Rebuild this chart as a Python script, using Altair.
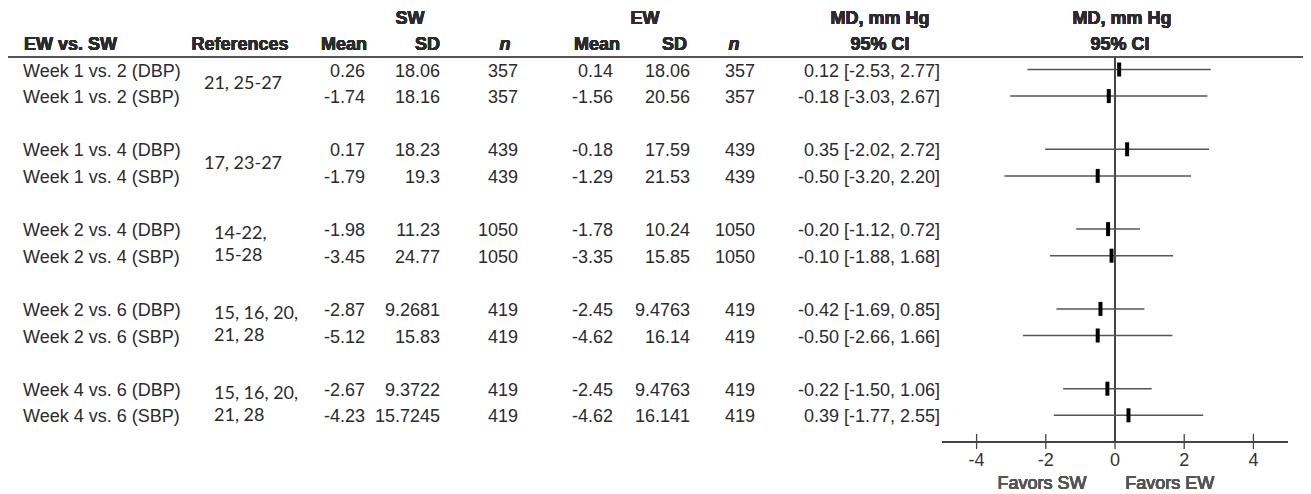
import altair as alt
import pandas as pd

LABELS = ["Week 1 vs. 2 (DBP)", "Week 1 vs. 2 (SBP)", "Week 1 vs. 4 (DBP)", "Week 1 vs. 4 (SBP)",
          "Week 2 vs. 4 (DBP)", "Week 2 vs. 4 (SBP)", "Week 2 vs. 6 (DBP)", "Week 2 vs. 6 (SBP)",
          "Week 4 vs. 6 (DBP)", "Week 4 vs. 6 (SBP)"]
REFS = ["21, 25-27", "17, 23-27", "14-22,\n15-28", "15, 16, 20,\n21, 28", "15, 16, 20,\n21, 28"]
SW_MEAN = ["0.26", "-1.74", "0.17", "-1.79", "-1.98", "-3.45", "-2.87", "-5.12", "-2.67", "-4.23"]
SW_SD = ["18.06", "18.16", "18.23", "19.3", "11.23", "24.77", "9.2681", "15.83", "9.3722", "15.7245"]
SW_N = ["357", "357", "439", "439", "1050", "1050", "419", "419", "419", "419"]
EW_MEAN = ["0.14", "-1.56", "-0.18", "-1.29", "-1.78", "-3.35", "-2.45", "-4.62", "-2.45", "-4.62"]
EW_SD = ["18.06", "20.56", "17.59", "21.53", "10.24", "15.85", "9.4763", "16.14", "9.4763", "16.141"]
EW_N = ["357", "357", "439", "439", "1050", "1050", "419", "419", "419", "419"]
MD = [0.12, -0.18, 0.35, -0.50, -0.20, -0.10, -0.42, -0.50, -0.22, 0.39]
LO = [-2.53, -3.03, -2.02, -3.20, -1.12, -1.88, -1.69, -2.66, -1.50, -1.77]
HI = [2.77, 2.67, 2.72, 2.20, 0.72, 1.68, 0.85, 1.66, 1.06, 2.55]
TICKS = [-4, -2, 0, 2, 4]
FAVORS = ["Favors SW", "Favors EW"]

rows = pd.DataFrame({
    "label": LABELS, "sw_mean": SW_MEAN, "sw_sd": SW_SD, "sw_n": SW_N,
    "ew_mean": EW_MEAN, "ew_sd": EW_SD, "ew_n": EW_N,
    "md": MD, "lo": LO, "hi": HI,
})
rows["s"] = [(i // 2) * 3 + i % 2 for i in range(len(rows))]
rows["ci"] = [f"{m:.2f} [{l:.2f}, {h:.2f}]" for m, l, h in zip(MD, LO, HI)]

refs = pd.DataFrame({"ref": REFS})
refs["multi"] = ["\n" in r for r in REFS]
refs["s"] = [g * 3 + (0.2 if m else 0.55) for g, m in enumerate(refs["multi"])]
refs["ref"] = [r.split("\n") for r in REFS]

ticks = pd.DataFrame({"t": TICKS, "lab": [str(t) for t in TICKS]})

YS = alt.Scale(domain=[0, 1], range=[61.5, 88.1], zero=False, nice=False)
XS = alt.Scale(domain=[-5, 5], range=[934, 1280], zero=False, nice=False)
FONT = "Liberation Sans"
TXT = "#2b2b2b"
FS = 18


def ycol(field="s"):
    return alt.Y(f"{field}:Q", scale=YS, axis=None)


def col_layer(field, x, align):
    return alt.Chart(rows).mark_text(align=align, baseline="middle", font=FONT, fontSize=FS,
                                     color=TXT, dy=2).encode(
        x=alt.value(x), y=ycol(), text=alt.Text(f"{field}:N"))


def header(text, x, s, align, italic=False):
    return alt.Chart(rows).mark_text(align=align, baseline="middle", font=FONT, fontSize=FS,
                                     fontWeight="bold", color=TXT,
                                     fontStyle="italic" if italic else "normal").encode(
        x=alt.value(x), y=alt.YDatum(s, type="quantitative", scale=YS, axis=None),
        text=alt.value(text))


layers = []
# headers
layers += [
    header("SW", 402, -1.9, "center"),
    header("EW", 637, -1.9, "center"),
    header("MD, mm Hg", 872, -1.9, "center"),
    header("MD, mm Hg", 1114, -1.9, "center"),
    header("EW vs. SW", 16, -0.92, "left"),
    header("References", 232, -0.92, "center"),
    header("Mean", 359, -0.92, "right"),
    header("SD", 432, -0.92, "right"),
    header("n", 497, -0.92, "center", italic=True),
    header("Mean", 612, -0.92, "right"),
    header("SD", 679, -0.92, "right"),
    header("n", 726, -0.92, "center", italic=True),
    header("95% CI", 872, -0.92, "center"),
    header("95% CI", 1112, -0.92, "center"),
]
# header rule
layers.append(alt.Chart(rows).mark_rule(color="#555555", strokeWidth=1.5).encode(
    x=alt.value(-3), x2=alt.value(1298),
    y=alt.YDatum(-0.47, type="quantitative", scale=YS, axis=None)))

# table columns
layers += [
    col_layer("label", 15, "left"),
    col_layer("sw_mean", 357, "right"),
    col_layer("sw_sd", 432, "right"),
    col_layer("sw_n", 510, "right"),
    col_layer("ew_mean", 605, "right"),
    col_layer("ew_sd", 682, "right"),
    col_layer("ew_n", 747, "right"),
    col_layer("ci", 932, "right"),
]
# references
layers.append(alt.Chart(refs).transform_filter("!datum.multi").mark_text(
    align="center", baseline="middle", font="Lato", fontSize=FS, color=TXT).encode(
    x=alt.value(235), y=ycol(), text="ref"))
layers.append(alt.Chart(refs).transform_filter("datum.multi").mark_text(
    align="left", baseline="middle", font="Lato", fontSize=FS, color=TXT, lineHeight=22).encode(
    x=alt.value(206), y=ycol(), text="ref"))

# forest: zero line
layers.append(alt.Chart(rows).mark_rule(color="#444444", strokeWidth=1.3).encode(
    x=alt.XDatum(0, type="quantitative", scale=XS, axis=None),
    y=alt.YDatum(-0.47, type="quantitative", scale=YS, axis=None),
    y2=alt.Y2Datum(14)))
# axis line
layers.append(alt.Chart(rows).mark_rule(color="#444444", strokeWidth=1.3).encode(
    x=alt.XDatum(-5, type="quantitative", scale=XS, axis=None), x2=alt.X2Datum(5),
    y=alt.YDatum(14, type="quantitative", scale=YS, axis=None)))
# axis ticks
layers.append(alt.Chart(ticks).mark_rule(color="#444444", strokeWidth=1.3).encode(
    x=alt.X("t:Q", scale=XS, axis=None),
    y=alt.YDatum(13.7, type="quantitative", scale=YS, axis=None),
    y2=alt.Y2Datum(14.27)))
layers.append(alt.Chart(ticks).mark_text(font=FONT, fontSize=FS, color="#333333",
                                         baseline="middle").encode(
    x=alt.X("t:Q", scale=XS, axis=None),
    y=alt.YDatum(14.72, type="quantitative", scale=YS, axis=None),
    text="lab:N"))
layers.append(alt.Chart(rows).mark_text(font=FONT, fontSize=FS, color="#555555",
                                        baseline="middle").encode(
    x=alt.XDatum(-2.11, type="quantitative", scale=XS, axis=None),
    y=alt.YDatum(15.58, type="quantitative", scale=YS, axis=None),
    text=alt.value(FAVORS[0])))
layers.append(alt.Chart(rows).mark_text(font=FONT, fontSize=FS, color="#555555",
                                        baseline="middle").encode(
    x=alt.XDatum(1.58, type="quantitative", scale=XS, axis=None),
    y=alt.YDatum(15.58, type="quantitative", scale=YS, axis=None),
    text=alt.value(FAVORS[1])))
# CI lines
layers.append(alt.Chart(rows).mark_rule(color="#555555", strokeWidth=1.5).encode(
    x=alt.X("lo:Q", scale=XS, axis=None), x2="hi:Q", y=ycol()))
# point estimates
layers.append(alt.Chart(rows).mark_tick(color="black", orient="vertical", thickness=4,
                                        size=14, opacity=1).encode(
    x=alt.X("md:Q", scale=XS, axis=None), y=ycol()))

chart = alt.layer(*layers).properties(
    width=1295, height=486, padding=0,
    autosize=alt.AutoSizeParams(type="none"),
).configure(background="white").configure_view(strokeWidth=0, stroke="transparent")

chart.save("out.html", embed_options={"renderer": "svg", "actions": False})
